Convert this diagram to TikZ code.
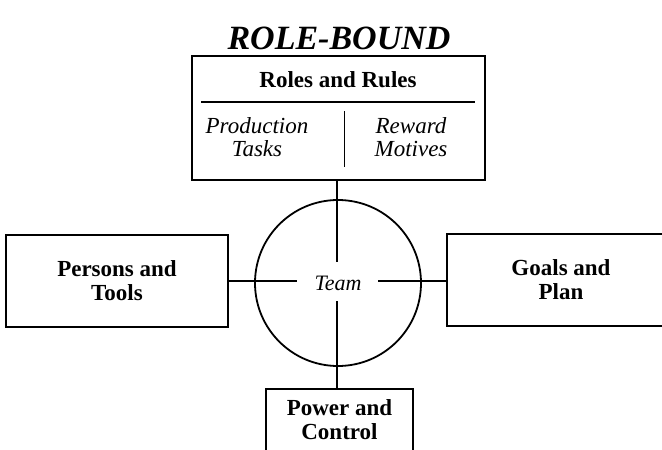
\documentclass[tikz,border=0pt]{standalone}
\usepackage{fontspec}
\setmainfont{Liberation Serif}
\usetikzlibrary{positioning}
\begin{document}
\begin{tikzpicture}[x=1pt,y=-1pt,
    box/.style={draw, line width=1.8pt, align=center, inner sep=0pt,
      font=\fontsize{23}{24}\selectfont\bfseries},
    cell/.style={align=center, font=\fontsize{23}{23}\selectfont\itshape},
    link/.style={line width=1.6pt}]
    \clip (0,0) rectangle (662,450);
    \node[font=\fontsize{34}{36}\selectfont\bfseries\itshape] (title) at (339,38) {ROLE-BOUND};
    % top box with its inner rule and divider
    \node[box, minimum width=293pt, minimum height=124pt] (roles) at (338.5,118) {};
    \node[font=\fontsize{23}{24}\selectfont\bfseries] (rolesname) at (338,80) {Roles and Rules};
    \draw[line width=1.5pt] (201,102) -- (475,102);
    \draw[line width=0.8pt] (344,111) -- (344,167);
    \node[cell] (tasks) at (257,137) {Production\\Tasks};
    \node[cell] (motives) at (411,137) {Reward\\Motives};
    % side and bottom boxes
    \node[box, minimum width=222pt, minimum height=92pt] (persons) at (117,281) {Persons and\\Tools};
    \node[box, minimum width=228pt, minimum height=92pt] (goals) at (561,280) {Goals and\\Plan};
    \node[box, minimum width=147pt, minimum height=62pt] (power) at (339.5,420) {Power and\\Control};
    % team circle
    \node[circle, draw, line width=1.8pt, minimum size=166pt, inner sep=0pt,
      font=\fontsize{22}{24}\selectfont\itshape] (team) at (338,283) {Team};
    \coordinate (tn) at (337,262);
    \coordinate (ts) at (337,301);
    \coordinate (tw) at (297,281);
    \coordinate (te) at (378,281);
    \draw[link] (tn |- roles.south) -- (tn);
    \draw[link] (ts) -- (ts |- power.north);
    \draw[link] (persons.east) -- (tw);
    \draw[link] (te) -- (te -| goals.west);
\end{tikzpicture}
\end{document}
